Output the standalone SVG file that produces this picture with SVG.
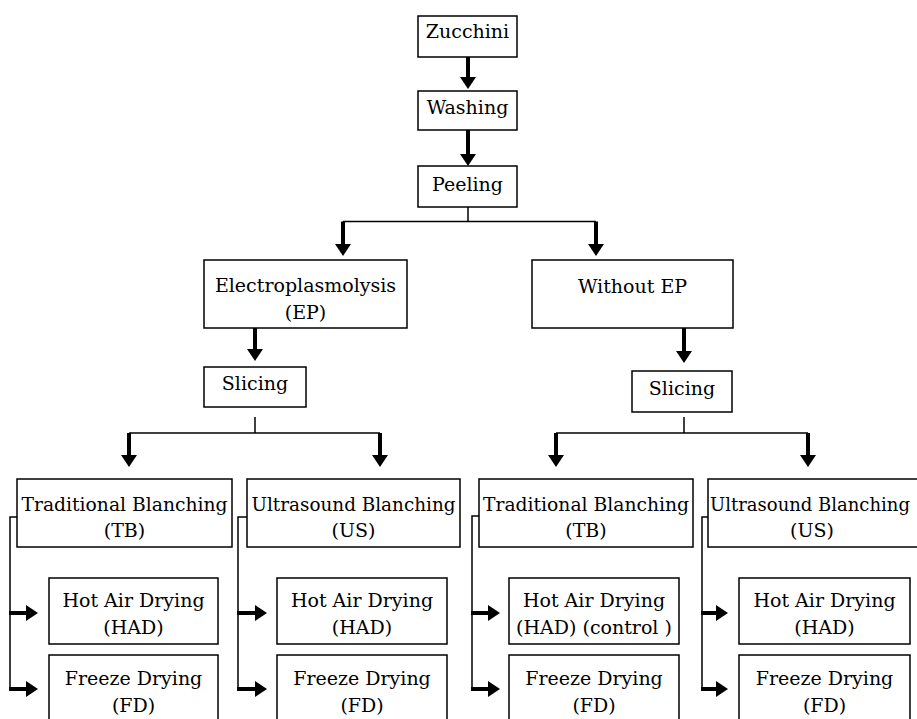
<svg xmlns="http://www.w3.org/2000/svg" width="917" height="719" viewBox="0 0 917 719">
<style>
  .box{fill:#fff;stroke:#000;stroke-width:1.5}
  .t{font-family:'DejaVu Serif',serif;font-size:19px;fill:#000;text-anchor:middle}
  .thin{fill:none;stroke:#000;stroke-width:1.5}
  .arr{fill:none;stroke:#000;stroke-width:4;marker-end:url(#ah)}
</style>
<defs>
  <marker id="ah" viewBox="0 0 12 16" refX="6" refY="8" markerWidth="12" markerHeight="16" markerUnits="userSpaceOnUse" orient="auto">
    <path d="M0,0 L12,8 L0,16 Z" fill="#000"/>
  </marker>
</defs>
<rect width="917" height="719" fill="#fff"/>
<g id="connectors">
  <line class="arr" x1="468" y1="57" x2="468" y2="83"/>
  <line class="arr" x1="468" y1="130" x2="468" y2="160"/>
  <line class="thin" x1="468" y1="207" x2="468" y2="221.5"/>
  <line class="thin" x1="343" y1="221.5" x2="596" y2="221.5"/>
  <line class="arr" x1="343" y1="221.5" x2="343" y2="250"/>
  <line class="arr" x1="596" y1="221.5" x2="596" y2="250"/>
  <line class="arr" x1="255" y1="328" x2="255" y2="355"/>
  <line class="arr" x1="684" y1="328" x2="684" y2="357"/>
  <line class="thin" x1="255" y1="417" x2="255" y2="433"/>
  <line class="thin" x1="129" y1="433" x2="380" y2="433"/>
  <line class="arr" x1="129" y1="433" x2="129" y2="461"/>
  <line class="arr" x1="380" y1="433" x2="380" y2="461"/>
  <line class="thin" x1="684" y1="417" x2="684" y2="433"/>
  <line class="thin" x1="556" y1="433" x2="808" y2="433"/>
  <line class="arr" x1="556" y1="433" x2="556" y2="461"/>
  <line class="arr" x1="808" y1="433" x2="808" y2="461"/>
  <polyline class="thin" points="17,517 10,517 10,689"/>
  <line class="arr" x1="9" y1="613" x2="32" y2="613"/>
  <line class="arr" x1="9" y1="689" x2="32" y2="689"/>
  <polyline class="thin" points="247,517 238,517 238,689"/>
  <line class="arr" x1="237" y1="613" x2="261" y2="613"/>
  <line class="arr" x1="237" y1="689" x2="261" y2="689"/>
  <polyline class="thin" points="479,516 472,516 472,689"/>
  <line class="arr" x1="471" y1="613" x2="494" y2="613"/>
  <line class="arr" x1="471" y1="689" x2="494" y2="689"/>
  <polyline class="thin" points="708,517 702,517 702,689"/>
  <line class="arr" x1="701" y1="613" x2="722" y2="613"/>
  <line class="arr" x1="701" y1="689" x2="722" y2="689"/>
</g>
<g id="zucchini"><rect class="box" x="418" y="16" width="99" height="41"/><text class="t" x="467.5" y="38">Zucchini</text></g>
<g id="washing"><rect class="box" x="418" y="91" width="99" height="39"/><text class="t" x="467.5" y="114">Washing</text></g>
<g id="peeling"><rect class="box" x="418" y="166" width="99" height="41"/><text class="t" x="467.5" y="191">Peeling</text></g>
<g id="ep"><rect class="box" x="204" y="260" width="203" height="68"/><text class="t" x="305.5" y="292">Electroplasmolysis</text><text class="t" x="305.5" y="319">(EP)</text></g>
<g id="without-ep"><rect class="box" x="532" y="260" width="201" height="68"/><text class="t" x="632.5" y="293">Without EP</text></g>
<g id="slicing-ep"><rect class="box" x="204" y="367" width="102" height="40"/><text class="t" x="255" y="390">Slicing</text></g>
<g id="slicing-noep"><rect class="box" x="632" y="371" width="100" height="41"/><text class="t" x="682" y="395">Slicing</text></g>
<g id="tb-ep"><rect class="box" x="17" y="479" width="215" height="68"/><text class="t" x="124.5" y="511" textLength="206" lengthAdjust="spacingAndGlyphs">Traditional Blanching</text><text class="t" x="124.5" y="537">(TB)</text></g>
<g id="us-ep"><rect class="box" x="247" y="479" width="213" height="68"/><text class="t" x="353.5" y="511" textLength="204" lengthAdjust="spacingAndGlyphs">Ultrasound Blanching</text><text class="t" x="353.5" y="537">(US)</text></g>
<g id="tb-noep"><rect class="box" x="479" y="479" width="214" height="68"/><text class="t" x="586" y="511" textLength="206" lengthAdjust="spacingAndGlyphs">Traditional Blanching</text><text class="t" x="586" y="537">(TB)</text></g>
<g id="us-noep"><rect class="box" x="708" y="479" width="215" height="68"/><text class="t" x="810" y="511" style="font-size:18px">Ultrasound Blanching</text><text class="t" x="812" y="537">(US)</text></g>
<g id="had-1"><rect class="box" x="49" y="578" width="169" height="66"/><text class="t" x="133.5" y="607">Hot Air Drying</text><text class="t" x="133.5" y="634">(HAD)</text></g>
<g id="fd-1"><rect class="box" x="49" y="655" width="169" height="70"/><text class="t" x="133.5" y="685">Freeze Drying</text><text class="t" x="133.5" y="712">(FD)</text></g>
<g id="had-2"><rect class="box" x="277" y="578" width="170" height="66"/><text class="t" x="362" y="607">Hot Air Drying</text><text class="t" x="362" y="634">(HAD)</text></g>
<g id="fd-2"><rect class="box" x="277" y="655" width="170" height="70"/><text class="t" x="362" y="685">Freeze Drying</text><text class="t" x="362" y="712">(FD)</text></g>
<g id="had-3"><rect class="box" x="509" y="578" width="170" height="66"/><text class="t" x="594" y="607">Hot Air Drying</text><text class="t" x="594" y="634">(HAD) (control )</text></g>
<g id="fd-3"><rect class="box" x="509" y="655" width="170" height="70"/><text class="t" x="594" y="685">Freeze Drying</text><text class="t" x="594" y="712">(FD)</text></g>
<g id="had-4"><rect class="box" x="739" y="578" width="171" height="66"/><text class="t" x="824.5" y="607">Hot Air Drying</text><text class="t" x="824.5" y="634">(HAD)</text></g>
<g id="fd-4"><rect class="box" x="739" y="655" width="171" height="70"/><text class="t" x="824.5" y="685">Freeze Drying</text><text class="t" x="824.5" y="712">(FD)</text></g>
</svg>
